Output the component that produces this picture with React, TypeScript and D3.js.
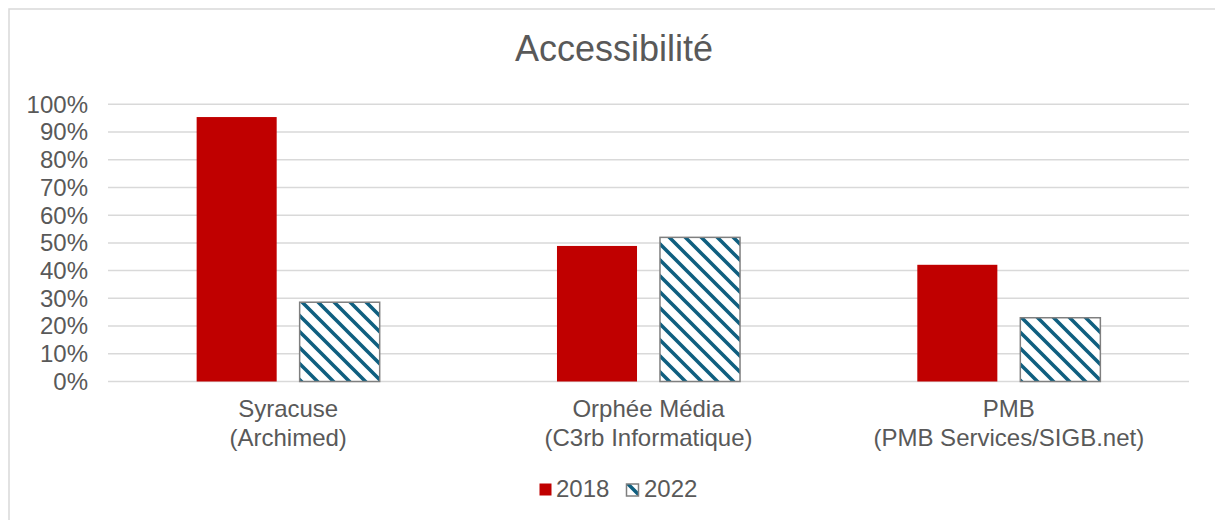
import React, { useEffect, useRef } from "react";
import * as d3 from "d3";

const categories = [
  ["Syracuse", "(Archimed)"],
  ["Orphée Média", "(C3rb Informatique)"],
  ["PMB", "(PMB Services/SIGB.net)"],
];
const seriesNames = ["2018", "2022"];
const values2018 = [0.954, 0.489, 0.421];
const values2022 = [0.286, 0.52, 0.23];
const yTicks = [0, 0.1, 0.2, 0.3, 0.4, 0.5, 0.6, 0.7, 0.8, 0.9, 1];
const title = "Accessibilité";

export default function App() {
  const ref = useRef<SVGSVGElement>(null);

  useEffect(() => {
    const width = 1215;
    const height = 520;
    const font = "'Liberation Sans', Arial, sans-serif";
    const textColor = "#595959";
    const gridColor = "#d9d9d9";

    const svg = d3.select(ref.current);
    svg.selectAll("*").remove();
    svg.attr("width", width).attr("height", height);

    // hatch pattern for 2022
    const defs = svg.append("defs");
    const pat = defs.append("pattern")
      .attr("id", "hatch")
      .attr("patternUnits", "userSpaceOnUse")
      .attr("width", 16)
      .attr("height", 16);
    pat.append("rect").attr("width", 16).attr("height", 16).attr("fill", "white");
    pat.append("path")
      .attr("d", "M-4,-4 L20,20 M-4,12 L4,20 M12,-4 L20,4")
      .attr("stroke", "#0f5f80")
      .attr("stroke-width", 3.6);

    svg.append("rect")
      .attr("width", width).attr("height", height).attr("fill", "white");

    // chart border
    svg.append("rect")
      .attr("x", 9).attr("y", 9)
      .attr("width", width).attr("height", height)
      .attr("fill", "none")
      .attr("stroke", gridColor)
      .attr("stroke-width", 1.5);

    svg.append("text")
      .attr("x", 614).attr("y", 61)
      .attr("text-anchor", "middle")
      .style("font-family", font)
      .style("font-size", "36px")
      .attr("fill", textColor)
      .text(title);

    const left = 108, right = 1189, top = 104.3, bottom = 381.5;

    const y = d3.scaleLinear().domain([0, 1]).range([bottom, top]);
    const x0 = d3.scaleBand<number>()
      .domain(categories.map((_, i) => i))
      .range([left, right]);
    const bw = x0.bandwidth();
    const x1 = d3.scaleBand<string>()
      .domain(seriesNames)
      .range([bw * 0.246, bw * 0.754])
      .paddingInner(0.223);

    // gridlines
    svg.append("g").selectAll("line")
      .data(yTicks)
      .enter().append("line")
      .attr("x1", left).attr("x2", right)
      .attr("y1", d => y(d)).attr("y2", d => y(d))
      .attr("stroke", gridColor)
      .attr("stroke-width", 1.5);

    // y tick labels
    svg.append("g").selectAll("text")
      .data(yTicks)
      .enter().append("text")
      .attr("x", 88)
      .attr("y", d => y(d))
      .attr("dy", "0.35em")
      .attr("text-anchor", "end")
      .style("font-family", font)
      .style("font-size", "24px")
      .attr("fill", textColor)
      .text(d => d3.format(".0%")(d));

    // bars
    const g = svg.append("g");
    categories.forEach((_, i) => {
      const bx = x0(i)!;
      g.append("rect")
        .attr("x", bx + x1("2018")!)
        .attr("y", y(values2018[i]))
        .attr("width", x1.bandwidth())
        .attr("height", y(0) - y(values2018[i]))
        .attr("fill", "#c00000");
      g.append("rect")
        .attr("x", bx + x1("2022")!)
        .attr("y", y(values2022[i]))
        .attr("width", x1.bandwidth())
        .attr("height", y(0) - y(values2022[i]))
        .attr("fill", "url(#hatch)")
        .attr("stroke", "#7f7f7f")
        .attr("stroke-width", 1.5);
    });

    // category labels
    const cat = svg.append("g").selectAll("text")
      .data(categories)
      .enter().append("text")
      .attr("text-anchor", "middle")
      .style("font-family", font)
      .style("font-size", "24px")
      .attr("fill", textColor);
    cat.append("tspan")
      .attr("x", (_, i) => x0(i)! + bw / 2)
      .attr("y", 417)
      .text(d => d[0]);
    cat.append("tspan")
      .attr("x", (_, i) => x0(i)! + bw / 2)
      .attr("y", 446)
      .text(d => d[1]);

    // legend
    const lg = svg.append("g");
    lg.append("rect")
      .attr("x", 539.5).attr("y", 483.5)
      .attr("width", 12).attr("height", 12)
      .attr("fill", "#c00000");
    lg.append("text")
      .attr("x", 556).attr("y", 497)
      .style("font-family", font)
      .style("font-size", "24px")
      .attr("fill", textColor)
      .text(seriesNames[0]);
    lg.append("rect")
      .attr("x", 626.5).attr("y", 484)
      .attr("width", 12).attr("height", 12)
      .attr("fill", "url(#hatch)")
      .attr("stroke", "#7f7f7f")
      .attr("stroke-width", 1.5);
    lg.append("text")
      .attr("x", 644).attr("y", 497)
      .style("font-family", font)
      .style("font-size", "24px")
      .attr("fill", textColor)
      .text(seriesNames[1]);
  }, []);

  return (
    <svg ref={ref} style={{ position: "absolute", left: 0, top: 0 }}></svg>
  );
}
